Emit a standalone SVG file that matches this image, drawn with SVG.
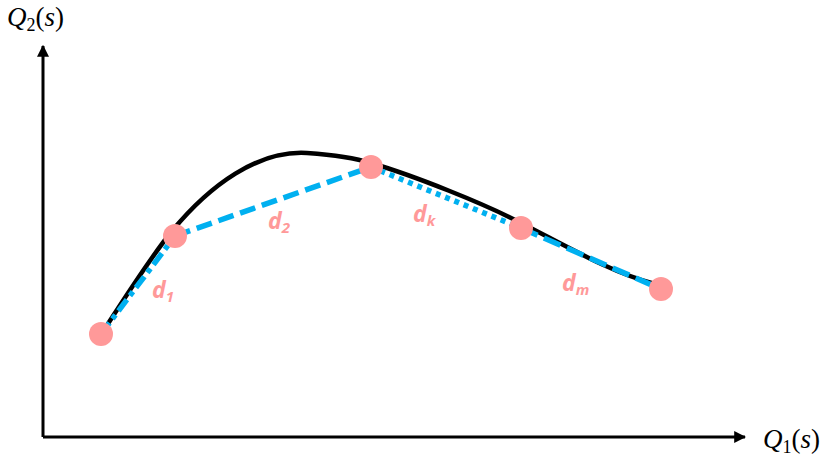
<svg xmlns="http://www.w3.org/2000/svg" width="823" height="457" viewBox="0 0 823 457">
<style>
.axis{stroke:#000;stroke-width:3;fill:none}
.curve{stroke:#000;stroke-width:4.5;fill:none}
.seg{stroke:#00B0F0;stroke-width:5.5;fill:none}
.pt{fill:#FF9999}
.lbl{font-family:"Open Sans","Liberation Sans",sans-serif;font-weight:bold;font-style:italic;font-size:23px;fill:#FF9999}
.sub{font-size:15px}
.ax{font-family:"Liberation Serif","DejaVu Serif",serif;font-size:27px;fill:#000}
</style>
<defs>
<marker id="arr" viewBox="0 0 10 10" refX="9" refY="5" markerWidth="4" markerHeight="4" orient="auto" markerUnits="strokeWidth">
<path d="M0,0 L10,5 L0,10 Z" fill="#000"/>
</marker>
</defs>
<g id="axes">
<path class="axis" d="M43 437 L43 46" marker-end="url(#arr)"/>
<path class="axis" d="M43 437 L745 437" marker-end="url(#arr)"/>
<text class="ax" x="7" y="26"><tspan font-style="italic">Q</tspan><tspan font-size="18" dy="5">2</tspan><tspan dy="-5">(</tspan><tspan font-style="italic">s</tspan><tspan>)</tspan></text>
<text class="ax" x="763" y="448"><tspan font-style="italic">Q</tspan><tspan font-size="18" dy="5">1</tspan><tspan dy="-5">(</tspan><tspan font-style="italic">s</tspan><tspan>)</tspan></text>
</g>
<g id="curve">
<path class="curve" d="M104 330 C124 299 150 258 172 231 C210 185 258 150 307 153 C335 155 355 158 371 163 C415 176 485 204 521 223 C568 247 610 272 655 284"/>
</g>
<g id="connectors">
<path class="seg" d="M101 334 L175 236" stroke-dasharray="14 5 5 5"/>
<path class="seg" d="M175 236 L371 167" stroke-dasharray="16 7"/>
<path class="seg" d="M371 167 L521 228" stroke-dasharray="5 5"/>
<path class="seg" d="M521 228 L661 289" stroke-dasharray="18 7"/>
</g>
<g id="n1"><circle class="pt" cx="101" cy="334" r="12"/></g>
<g id="n2"><circle class="pt" cx="175" cy="236" r="12"/></g>
<g id="n3"><circle class="pt" cx="371" cy="167" r="12"/></g>
<g id="n4"><circle class="pt" cx="521" cy="228" r="12"/></g>
<g id="n5"><circle class="pt" cx="661" cy="289" r="12"/></g>
<g id="labels">
<text class="lbl" x="152" y="298">d<tspan class="sub" dy="4">1</tspan></text>
<text class="lbl" x="268" y="229">d<tspan class="sub" dy="4">2</tspan></text>
<text class="lbl" x="413" y="222">d<tspan class="sub" dy="4">k</tspan></text>
<text class="lbl" x="562" y="291">d<tspan class="sub" dy="4">m</tspan></text>
</g>
</svg>
